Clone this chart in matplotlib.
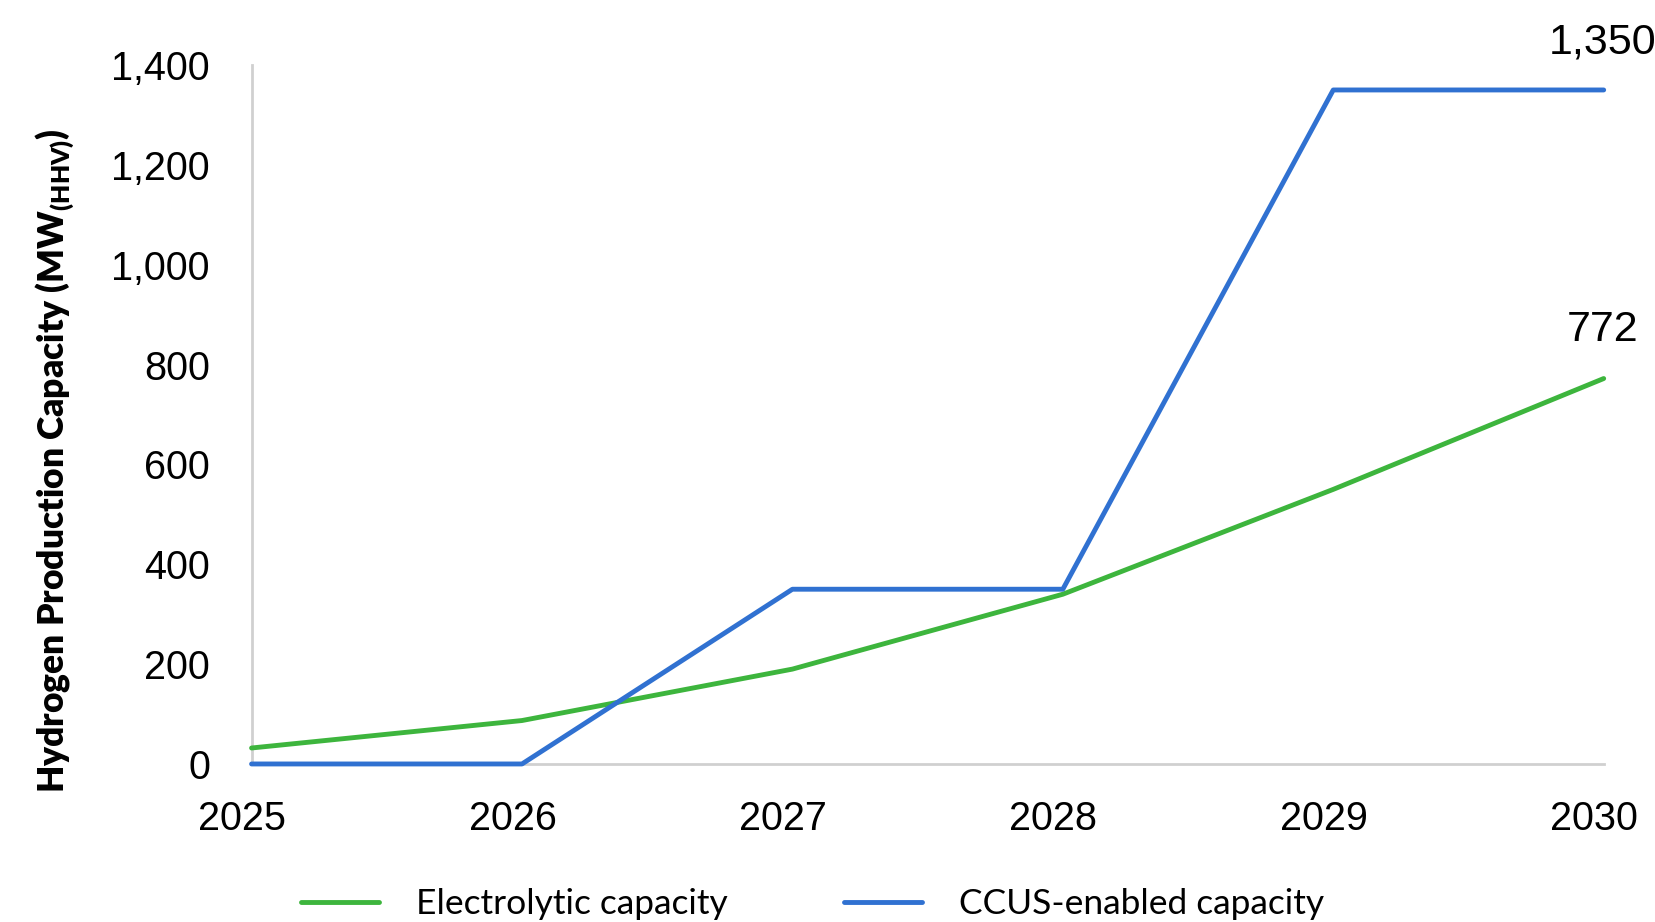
import matplotlib
matplotlib.use("Agg")
import matplotlib.pyplot as plt
from matplotlib.transforms import ScaledTranslation

# data
years = [2025, 2026, 2027, 2028, 2029, 2030]
electrolytic = [32, 87, 190, 340, 550, 772]
ccus = [0, 0, 350, 350, 1350, 1350]
yticks = [0, 200, 400, 600, 800, 1000, 1200, 1400]

green = "#3db53d"
blue = "#3071d1"
grey = "#d0d0d0"

plt.rcParams["font.family"] = ["Liberation Sans", "DejaVu Sans"]

fig = plt.figure(figsize=(16.55, 9.22), dpi=100)
ax = fig.add_axes([0.152, 0.1714, 0.817, 0.7581])

ax.plot(years, electrolytic, color=green, lw=3.5, solid_capstyle="round",
        label="Electrolytic capacity", clip_on=False, zorder=3)
ax.plot(years, ccus, color=blue, lw=3.5, solid_capstyle="round",
        label="CCUS-enabled capacity", clip_on=False, zorder=3)

# end-point labels
ax.annotate(f"{electrolytic[-1]:,}", (years[-1], electrolytic[-1]), xytext=(-1, 35),
            textcoords="offset points", ha="center", va="center", fontsize=31)
ax.annotate(f"{ccus[-1]:,}", (years[-1], ccus[-1]), xytext=(-1, 34),
            textcoords="offset points", ha="center", va="center", fontsize=31,
            annotation_clip=False)

ax.set_xlim(years[0], years[-1])
ax.set_ylim(0, 1400)
ax.set_xticks(years)
ax.set_yticks(yticks)
ax.set_yticklabels([f"{v:,}" for v in yticks])
ax.tick_params(axis="both", length=0, labelsize=28.5)
ax.tick_params(axis="y", pad=30)
ax.tick_params(axis="x", pad=26)

# year labels sit a little left of their gridpoint in the original
shift = ScaledTranslation(-9.5 / 100, 0, fig.dpi_scale_trans)
for lbl in ax.get_xticklabels():
    lbl.set_transform(lbl.get_transform() + shift)

for s in ["top", "right"]:
    ax.spines[s].set_visible(False)
for s in ["left", "bottom"]:
    ax.spines[s].set_color(grey)
    ax.spines[s].set_linewidth(2)

fig.text(0.033, 0.50, r"Hydrogen Production Capacity (MW$_{\mathregular{(HHV)}}$)",
         rotation=90, ha="center", va="center", fontsize=25.5, fontweight="heavy",
         family="Lato")

leg = ax.legend(loc="center", bbox_to_anchor=(0.491, 0.019), bbox_transform=fig.transFigure,
                ncol=2, frameon=False, handlelength=2.2, handletextpad=1.05,
                columnspacing=3.3, prop={"family": "Lato", "size": 25.5})

fig.savefig("out.png", dpi=100)
